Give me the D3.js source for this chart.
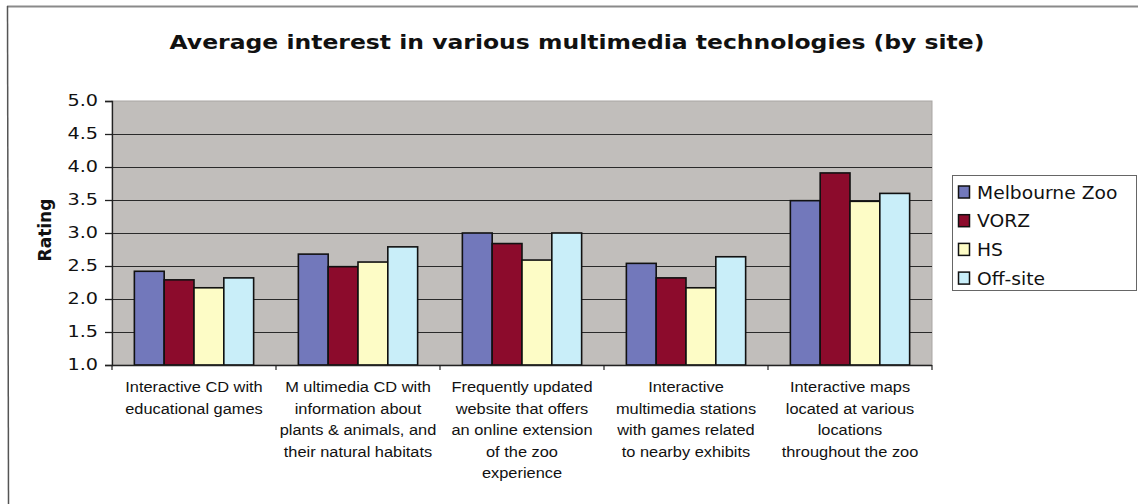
<!DOCTYPE html>
<html>
<head>
<meta charset="utf-8">
<script src="https://cdn.jsdelivr.net/npm/d3@7"></script>
<style>
  html, body { margin: 0; padding: 0; background: #fff; }
  svg { display: block; }
</style>
</head>
<body>
<svg id="chart" width="1138" height="504"></svg>
<script>
// Technologies rated (one wrapped label per category)
const categories = [
  "Interactive CD with|educational games",
  "M ultimedia CD with|information about|plants & animals, and|their natural habitats",
  "Frequently updated|website that offers|an online extension|of the zoo|experience",
  "Interactive|multimedia stations|with games related|to nearby exhibits",
  "Interactive maps|located at various|locations|throughout the zoo"
];

const sites = ["Melbourne Zoo", "VORZ", "HS", "Off-site"];

// Average rating per technology, one array per site
const melbourneZoo = [2.42, 2.68, 3.00, 2.54, 3.49];
const vorz         = [2.29, 2.49, 2.84, 2.32, 3.91];
const hs           = [2.17, 2.56, 2.59, 2.17, 3.48];
const offSite      = [2.32, 2.79, 3.00, 2.64, 3.60];

const yTicks = [1.0, 1.5, 2.0, 2.5, 3.0, 3.5, 4.0, 4.5, 5.0];

const seriesValues = [melbourneZoo, vorz, hs, offSite];
const colors = ["#7278bb", "#8c0b2c", "#fdfcc6", "#c9eef9"];

const svg = d3.select("#chart");

// stretch text horizontally by a factor, keeping its anchor
function widen(sel, sx) {
  sel.each(function () {
    const w = this.getComputedTextLength();
    d3.select(this)
      .attr("textLength", w * sx)
      .attr("lengthAdjust", "spacingAndGlyphs");
  });
}

// Outer frame (top and left edges)
svg.append("line").attr("x1", 7).attr("y1", 6.5).attr("x2", 1138).attr("y2", 6.5)
  .attr("stroke", "#8a8a8a").attr("stroke-width", 2);
svg.append("line").attr("x1", 7.5).attr("y1", 6).attr("x2", 8.5).attr("y2", 504)
  .attr("stroke", "#555").attr("stroke-width", 1.5);

// Title
svg.append("text")
  .attr("x", 577).attr("y", 49)
  .attr("text-anchor", "middle")
  .style("font-family", "'DejaVu Sans', Verdana, sans-serif")
  .style("font-weight", "bold")
  .style("font-size", "19.5px")
  .attr("fill", "#111")
  .text("Average interest in various multimedia technologies (by site)")
  .call(s => s.attr("textLength", 815).attr("lengthAdjust", "spacingAndGlyphs"));

const plot = { left: 112, right: 932, top: 101, bottom: 365 };

const x0 = d3.scaleBand()
  .domain(d3.range(categories.length))
  .range([plot.left, plot.right])
  .paddingInner(0).paddingOuter(0);

const x1 = d3.scaleBand()
  .domain(d3.range(sites.length))
  .range([0, x0.bandwidth()])
  .paddingInner(0)
  .paddingOuter(0.75);

const y = d3.scaleLinear().domain([1, 5]).range([plot.bottom, plot.top]);

// Plot background
svg.append("rect")
  .attr("x", plot.left).attr("y", plot.top)
  .attr("width", plot.right - plot.left).attr("height", plot.bottom - plot.top)
  .attr("fill", "#c1bebb")
  .attr("stroke", "#a9a6a3").attr("stroke-width", 1);

// Gridlines
svg.append("g")
  .selectAll("line")
  .data(yTicks.filter(t => t > 1 && t < 5))
  .join("line")
  .attr("x1", plot.left).attr("x2", plot.right)
  .attr("y1", d => Math.round(y(d)) + 0.5).attr("y2", d => Math.round(y(d)) + 0.5)
  .attr("stroke", "#2a2a2a").attr("stroke-width", 1);

// Bars
const groups = svg.append("g")
  .selectAll("g")
  .data(sites.map((s, i) => ({ site: s, i, values: seriesValues[i] })))
  .join("g")
  .attr("fill", d => colors[d.i]);

groups.selectAll("rect")
  .data(d => d.values.map((v, c) => ({ v, c, s: d.i })))
  .join("rect")
  .attr("x", d => x0(d.c) + x1(d.s))
  .attr("y", d => y(d.v))
  .attr("width", x1.bandwidth())
  .attr("height", d => y(1) - y(d.v))
  .attr("stroke", "#111")
  .attr("stroke-width", 1.6);

// Y axis
const yAxis = svg.append("g")
  .attr("transform", `translate(${plot.left},0)`)
  .call(d3.axisLeft(y).tickValues(yTicks).tickFormat(d3.format(".1f")).tickSize(7).tickPadding(7));
yAxis.select(".domain").attr("stroke", "#222").attr("stroke-width", 1.3);
yAxis.selectAll(".tick line").attr("stroke", "#222").attr("stroke-width", 1.3);
yAxis.selectAll(".tick text")
  .style("font-family", "'DejaVu Sans', Verdana, sans-serif")
  .style("font-size", "15px")
  .attr("fill", "#111")
  .call(widen, 1.28);

// X axis (ticks between categories)
const bounds = d3.range(categories.length + 1);
const xAxis = svg.append("g");
xAxis.append("line")
  .attr("x1", plot.left).attr("x2", plot.right)
  .attr("y1", plot.bottom + 0.5).attr("y2", plot.bottom + 0.5)
  .attr("stroke", "#222").attr("stroke-width", 1.3);
xAxis.selectAll("line.tk")
  .data(bounds)
  .join("line")
  .attr("class", "tk")
  .attr("x1", d => d < categories.length ? x0(d) : plot.right)
  .attr("x2", d => d < categories.length ? x0(d) : plot.right)
  .attr("y1", plot.bottom).attr("y2", plot.bottom + 5)
  .attr("stroke", "#222").attr("stroke-width", 1.2);

// Category labels
const catLabels = svg.append("g")
  .selectAll("text")
  .data(categories)
  .join("text")
  .attr("x", (d, i) => x0(i) + x0.bandwidth() / 2)
  .attr("y", 392)
  .attr("text-anchor", "middle")
  .style("font-family", "'Liberation Sans', Arial, sans-serif")
  .style("font-size", "14px")
  .attr("fill", "#111");
catLabels.each(function (d) {
  const t = d3.select(this);
  const xx = t.attr("x");
  d.split("|").forEach((line, k) => {
    t.append("tspan").attr("x", xx).attr("y", 392 + k * 21.5).text(line)
      .call(widen, 1.17);
  });
});

// Y axis title
svg.append("text")
  .attr("transform", "translate(51,230) rotate(-90)")
  .attr("text-anchor", "middle")
  .style("font-family", "'DejaVu Sans', Verdana, sans-serif")
  .style("font-weight", "bold")
  .style("font-size", "17px")
  .attr("fill", "#111")
  .text("Rating");

// Legend
const legend = svg.append("g");
legend.append("rect")
  .attr("x", 952.5).attr("y", 175.5).attr("width", 184).attr("height", 115)
  .attr("fill", "#fff").attr("stroke", "#666").attr("stroke-width", 1);
const legItems = legend.selectAll("g.item")
  .data(sites)
  .join("g")
  .attr("class", "item")
  .attr("transform", (d, i) => `translate(958,${192 + i * 28.7})`);
legItems.append("rect")
  .attr("x", 0.5).attr("y", -6).attr("width", 11).attr("height", 12)
  .attr("fill", (d, i) => colors[i])
  .attr("stroke", "#111").attr("stroke-width", 1.5);
legItems.append("text")
  .attr("x", 19).attr("y", 6.5)
  .style("font-family", "'DejaVu Sans', Verdana, sans-serif")
  .style("font-size", "17px")
  .attr("fill", "#111")
  .text(d => d)
  .call(widen, 1.1);
</script>
</body>
</html>
